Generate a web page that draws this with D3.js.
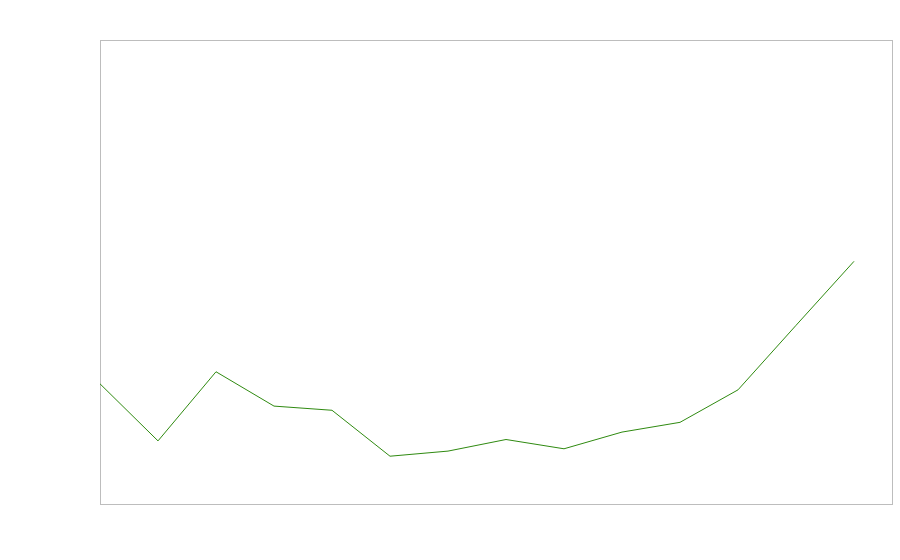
<!DOCTYPE html>
<html>
<head>
<meta charset="utf-8">
<script src="https://cdn.jsdelivr.net/npm/d3@7"></script>
<style>
  body { margin: 0; background: #fff; }
</style>
</head>
<body>
<div id="chart"></div>
<script>
// point index along x (0-100 scale)
var steps = [0, 1, 2, 3, 4, 5, 6, 7, 8, 9, 10, 11, 12, 13];
var values = [25.9, 13.6, 28.5, 21.1, 20.2, 10.3, 11.4, 13.9, 11.9, 15.5, 17.6, 24.6, 38.5, 52.3];

var width = 900, height = 560;
var margin_top = 40, margin_left = 100;
var plotW = 792, plotH = 464;

var svg = d3.select("#chart").append("svg")
  .attr("width", width)
  .attr("height", height);

var xScale = d3.scaleLinear()
  .domain([0, 13])
  .range([margin_left, margin_left + 754]);

var yScale = d3.scaleLinear()
  .domain([0, 100])
  .range([margin_top + plotH, margin_top]);

// frame
svg.append("rect")
  .attr("x", margin_left + 0.5)
  .attr("y", margin_top + 0.5)
  .attr("width", plotW)
  .attr("height", plotH)
  .attr("fill", "none")
  .attr("stroke", "#bdbdbd")
  .attr("stroke-width", 1);

var data = steps.map((s, i) => ({step: s, value: values[i]}));

var line = d3.line()
  .x(d => xScale(d.step))
  .y(d => yScale(d.value));

svg.append("path")
  .datum(data)
  .attr("d", line)
  .attr("fill", "none")
  .attr("stroke", "#2f8a10")
  .attr("stroke-width", 1);
</script>
</body>
</html>
